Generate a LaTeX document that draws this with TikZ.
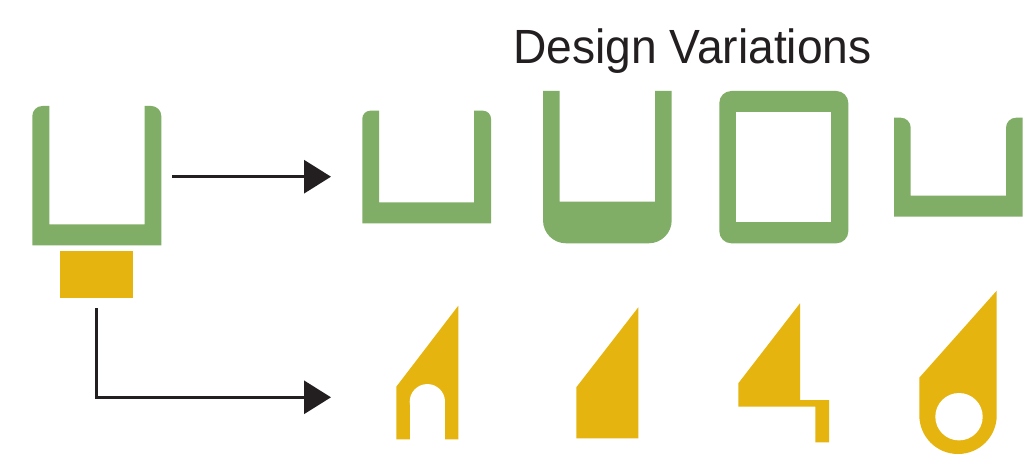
\documentclass[tikz,border=0pt]{standalone}
\usepackage{fontspec}
\setmainfont{Liberation Sans}
\usetikzlibrary{arrows.meta}
\definecolor{pgreen}{HTML}{80AE66}
\definecolor{pyellow}{HTML}{E6B40F}
\definecolor{pdark}{HTML}{231F20}
\tikzset{
  greenshape/.style={fill=pgreen, draw=none},
  yellowshape/.style={fill=pyellow, draw=none},
  holeshape/.style={fill=white, draw=none},
  connector/.style={draw=pdark, line width=3pt, -{Triangle[length=27pt,width=33pt]}},
}
\begin{document}
\begin{tikzpicture}[x=1pt,y=-1pt]
\useasboundingbox[fill=white] (0,0) rectangle (1027,457);

% title
\node[anchor=base west, inner sep=0pt, text=pdark, font=\fontsize{48}{56}\selectfont] (title) at (513,63.3) {\scalebox{0.962}[1]{Design Variations}};

% main U profile
\fill[greenshape] (32.3,245.3) -- (32.3,116) .. controls (32.3,110.5) and (36.8,106) .. (42.3,106)
  -- (49.3,106) -- (49.3,224.3) -- (144.7,224.3) -- (144.7,106) -- (151.3,106)
  .. controls (156.8,106) and (161.3,110.5) .. (161.3,116) -- (161.3,245.3) -- cycle;
\coordinate (mainU) at (96.8,176);

% yellow block
\fill[yellowshape] (60,251) rectangle (133,297.7);
\coordinate (block) at (96.5,274);

% top variations
\fill[greenshape] (362.3,223.3) -- (362.3,118.7) .. controls (362.3,114.3) and (365.9,110.7) .. (370.3,110.7)
  -- (379,110.7) -- (379,202.3) -- (474,202.3) -- (474,110.7) -- (483,110.7)
  .. controls (487.4,110.7) and (491,114.3) .. (491,118.7) -- (491,223.3) -- cycle;

\fill[greenshape] (543,91) -- (559.7,91) -- (559.7,201.7) -- (655,201.7) -- (655,91) -- (671.7,91)
  -- (671.7,220.3) .. controls (671.7,233) and (661.4,243.3) .. (648.7,243.3)
  -- (566,243.3) .. controls (553.3,243.3) and (543,233) .. (543,220.3) -- cycle;

\fill[greenshape, rounded corners=12pt] (719.3,91) rectangle (848.3,243.3);
\fill[holeshape] (736,112) rectangle (831.3,222.3);

\fill[greenshape] (894,216.7) -- (894,117.7) -- (900.7,117.7)
  .. controls (906.2,117.7) and (910.7,122.2) .. (910.7,127.7)
  -- (910.7,195.7) -- (1006,195.7) -- (1006,127.7)
  .. controls (1006,122.2) and (1010.5,117.7) .. (1016,117.7)
  -- (1022.7,117.7) -- (1022.7,216.7) -- cycle;

% bottom variations
\fill[yellowshape] (396.3,439.3) -- (396.3,386.7) -- (458.3,305.7) -- (458.3,439.3) -- cycle;
\fill[holeshape] (409.7,401.7) rectangle (445,440);
\fill[holeshape] (427.35,401.7) circle[radius=17.65];

\fill[yellowshape] (576.3,438.3) -- (576.3,387.3) -- (638.3,307.3) -- (638.3,438.3) -- cycle;

\fill[yellowshape] (738.3,406.7) -- (738.3,383.3) -- (800,303.3) -- (800,400) -- (829,400)
  -- (829,442.3) -- (815.3,442.3) -- (815.3,406.7) -- cycle;

\fill[yellowshape] (919.3,377.7) -- (996.7,290.7) -- (996.7,415.3)
  .. controls (996.7,436.7) and (979.4,454) .. (958,454)
  .. controls (936.6,454) and (919.3,436.7) .. (919.3,415.3) -- cycle;
\fill[holeshape] (959,416.7) circle[radius=23.7];

% connectors
\coordinate (a1s) at (172.3,176.7);
\coordinate (a1e) at (331,176.7);
\coordinate (a2s) at (96.7,308.3);
\coordinate (a2e) at (331,397.3);
\draw[connector] (a1s) -- (a1e);
\draw[connector] (a2s) |- (a2e);
\end{tikzpicture}
\end{document}
